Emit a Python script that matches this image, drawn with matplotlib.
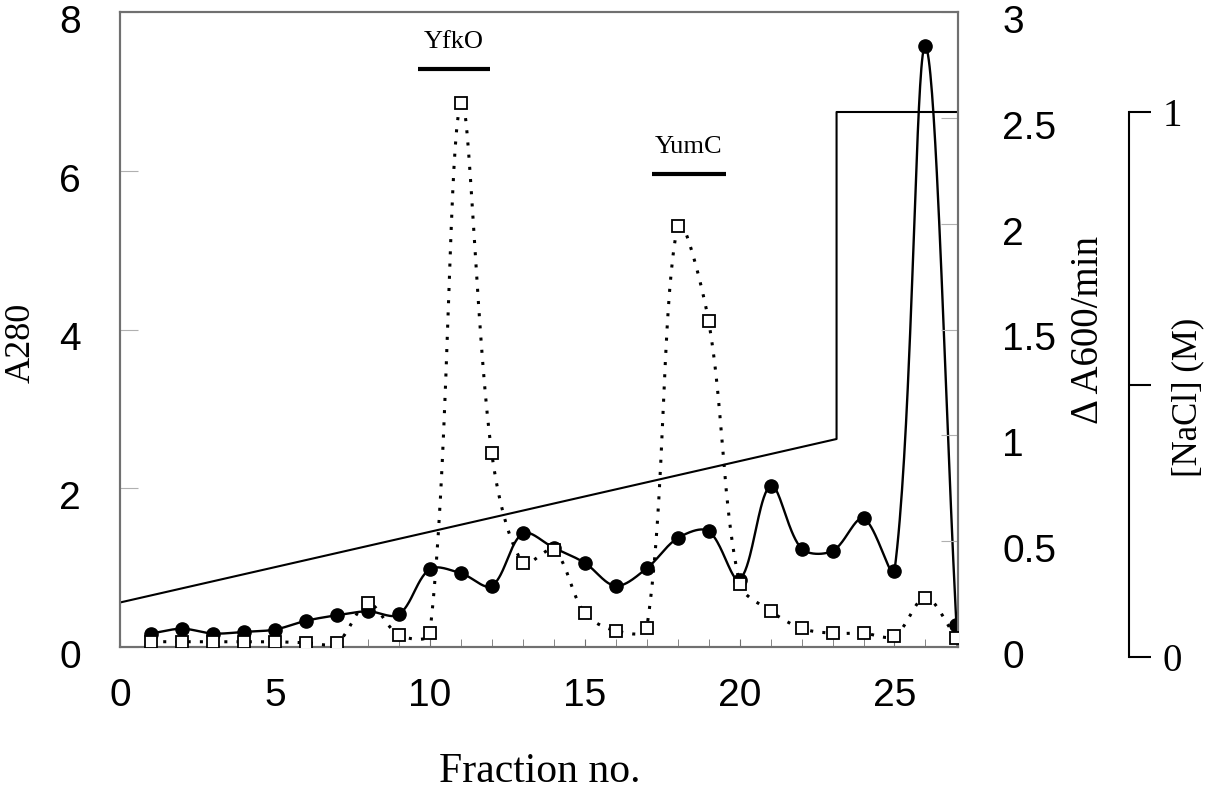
import matplotlib
matplotlib.use("Agg")
import matplotlib.pyplot as plt
import matplotlib.transforms as mtransforms
import numpy as np

# fraction numbers
fractions = list(range(1, 28))
# A280 (filled circles, left axis)
a280 = [0.17, 0.23, 0.17, 0.19, 0.22, 0.33, 0.40, 0.45, 0.41, 0.98,
        0.93, 0.77, 1.43, 1.25, 1.06, 0.77, 0.99, 1.37, 1.46, 0.85,
        2.03, 1.24, 1.21, 1.62, 0.96, 7.57, 0.28]
# delta A600/min (open squares, right axis)
dA600 = [0.025, 0.025, 0.025, 0.025, 0.025, 0.02, 0.02, 0.206, 0.057, 0.065,
         2.57, 0.915, 0.396, 0.458, 0.16, 0.077, 0.088, 1.99, 1.54, 0.30,
         0.17, 0.088, 0.065, 0.065, 0.052, 0.233, 0.041]
# NaCl gradient (M)
nacl_x = [0, 23.13, 23.13, 27.05]
nacl_y = [0.1, 0.4, 1.0, 1.0]

# pooled fractions
pools = ["YfkO", "YumC"]
pool_from = [9.63, 17.17]
pool_to = [11.94, 19.56]
pool_y = [7.28, 5.96]

W, H = 1207, 799


def smooth(x, y, kx, ky, n=40):
    # excel-like smoothed line: bezier segments, tangents scaled by
    # segment length on screen (kx, ky = pixels per data unit)
    P = np.column_stack([np.asarray(x, float) * kx, np.asarray(y, float) * ky])
    P = np.vstack([P[0], P, P[-1]])
    t = np.linspace(0, 1, n)[:, None]
    out = []
    for i in range(1, len(P) - 2):
        p0, p3 = P[i], P[i + 1]
        d_prev = np.hypot(*(P[i] - P[i - 1]))
        d_cur = np.hypot(*(P[i + 1] - P[i]))
        d_next = np.hypot(*(P[i + 2] - P[i + 1]))
        f1 = d_cur / (d_prev + d_cur) / 3 if d_prev + d_cur > 0 else 0
        f2 = d_cur / (d_cur + d_next) / 3 if d_cur + d_next > 0 else 0
        p1 = p0 + (P[i + 1] - P[i - 1]) * f1
        p2 = p3 - (P[i + 2] - P[i]) * f2
        b = (1 - t) ** 3 * p0 + 3 * (1 - t) ** 2 * t * p1 \
            + 3 * (1 - t) * t ** 2 * p2 + t ** 3 * p3
        out.append(b)
    out = np.vstack(out)
    return out[:, 0] / kx, out[:, 1] / ky


fig = plt.figure(figsize=(W / 100, H / 100), dpi=100)
ax1 = fig.add_axes([120 / W, 1 - 647 / H, (958 - 120) / W, (647 - 12) / H])
ax2 = ax1.twinx()
# third axis for [NaCl], drawn as a lone spine at the right
ax3 = fig.add_axes([1119 / W, 1 - 657 / H, 10 / W, (657 - 112) / H])
ax3.set_ylim(0, 1)
ax3.patch.set_visible(False)
for s in ["left", "top", "bottom"]:
    ax3.spines[s].set_visible(False)
ax3.spines["right"].set_linewidth(1.5)
ax3.set_xticks([])
ax3.yaxis.tick_right()
ax3.set_yticks([0, 0.5, 1])
ax3.set_yticklabels(["0", "", "1"], family="Liberation Serif", fontsize=28)
ax3.tick_params(axis="y", direction="out", length=16, width=1.5, pad=8)

gray = "#707070"
sans = "Liberation Sans"
serif = "Liberation Serif"

# gradient line: x in fraction, y in NaCl units
tr = mtransforms.blended_transform_factory(ax1.transData, ax3.transData)
ax1.plot(nacl_x, nacl_y, color="black", lw=1.5, transform=tr, zorder=2)

kx = (958 - 120) / 27.05
sx, sy = smooth(fractions, a280, kx, 635 / 8)
ax1.plot(sx, sy, color="black", lw=1.7, zorder=3)
ax1.plot(fractions, a280, "o", color="black", ms=9.5, zorder=4)

dx, dy = smooth(fractions, dA600, kx, 635 / 3)
ax2.plot(dx, dy, color="black", lw=2.2, linestyle=(0, (1, 3)), zorder=3)
ax2.plot(fractions, dA600, "s", mfc="white", mec="black", mew=1.3, ms=8.7, zorder=4)

ax1.set_xlim(0, 27.05)
ax1.set_ylim(0, 8)
ax2.set_ylim(0, 3)
ax1.set_xticks(range(0, 26, 5))
ax1.set_xticks(range(0, 28), minor=True)
ax1.set_yticks(range(0, 9, 2))
ax2.set_yticks([0, 0.5, 1, 1.5, 2, 2.5, 3])
ax2.set_yticklabels(["0", "0.5", "1", "1.5", "2", "2.5", "3"])

for ax in (ax1, ax2):
    for s in ax.spines.values():
        s.set_color(gray)
        s.set_linewidth(1.5)
ax1.tick_params(axis="x", which="both", direction="in", length=6, color=gray,
                labelsize=28, pad=22)
ax1.tick_params(axis="y", direction="in", length=13, color="#b0b0b0",
                labelsize=28, pad=28)
ax2.tick_params(axis="y", direction="in", length=12, color="#b0b0b0",
                labelsize=28, pad=32)
# tick labels of both y axes sit a little below their ticks
shift = mtransforms.ScaledTranslation(0, -7 / 100, fig.dpi_scale_trans)
for lab in ax1.get_yticklabels() + ax2.get_yticklabels():
    lab.set_family(sans)
    lab.set_transform(lab.get_transform() + shift)
for lab in ax1.get_xticklabels():
    lab.set_family(sans)

# pooled fraction bars
for name, a, b, y in zip(pools, pool_from, pool_to, pool_y):
    ax1.plot([a, b], [y, y], color="black", lw=3, solid_capstyle="butt")
    ax1.text((a + b) / 2, y + 0.2, name, ha="center", va="bottom",
             family=serif, fontsize=19)

fig.text(21 / W, 1 - 343 / H, "A280", rotation=90, ha="center", va="center",
         family=serif, fontsize=26)
fig.text(1089 / W, 1 - 330 / H, "\u0394 A600/min", rotation=90, ha="center",
         va="center", family=serif, fontsize=28)
fig.text(1188 / W, 1 - 397 / H, "[NaCl] (M)", rotation=90, ha="center",
         va="center", family=serif, fontsize=25)
fig.text(540 / W, 1 - 772 / H, "Fraction no.", ha="center", va="center",
         family=serif, fontsize=30)

fig.savefig("out.png", dpi=100)
